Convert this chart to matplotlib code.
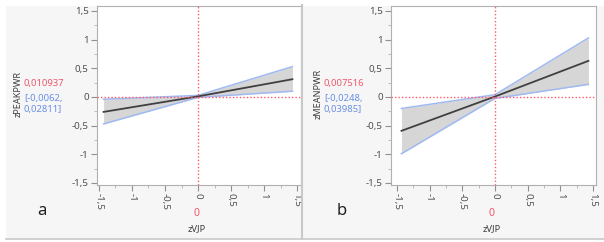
import numpy as np
import matplotlib.pyplot as plt
from matplotlib.patches import Rectangle
from matplotlib.ticker import MultipleLocator, FuncFormatter

plt.rcParams['font.family'] = ['Noto Sans', 'DejaVu Sans']

# regression line and confidence band
xs = [-1.43, 0.0, 1.43]

a_fit = [-0.26, 0.010937, 0.31]
a_low = [-0.47, -0.0062, 0.10]
a_high = [-0.04, 0.02811, 0.53]

b_fit = [-0.59, 0.007516, 0.63]
b_low = [-0.99, -0.0248, 0.22]
b_high = [-0.20, 0.03985, 1.03]

panels = [
    dict(letter='a', ylabel='zPEAKPWR', val='0,010937', ci='[-0,0062,\n0,02811]',
         fit=a_fit, low=a_low, high=a_high),
    dict(letter='b', ylabel='zMEANPWR', val='0,007516', ci='[-0,0248,\n0,03985]',
         fit=b_fit, low=b_low, high=b_high),
]

W, H = 604, 242
fig = plt.figure(figsize=(W/100, H/100), dpi=100, facecolor='white')

def fx(px):
    return px / W

def fy(py):
    return 1 - py / H

# panel background and separators
fig.patches.append(Rectangle((fx(6), fy(238)), fx(598), (232)/H, transform=fig.transFigure,
                             facecolor='#f6f6f6', edgecolor='none', zorder=-5))
fig.add_artist(plt.Line2D([fx(302), fx(302)], [fy(238), fy(5)], color='#c8c8c8', lw=1.5))
fig.add_artist(plt.Line2D([fx(6), 1], [fy(238.5), fy(238.5)], color='#c8c8c8', lw=1.2))

red = '#f0566a'
blue = '#6a8fe6'
txt = '#505050'
comma = FuncFormatter(lambda v, p: ('%g' % v).replace('.', ','))

# axes boxes in pixels: left, right, top, bottom, and offsets for texts
boxes = [(97, 301, 6, 185, 0), (391, 596, 6, 185, 300)]

for p, (l, r, t, b, off) in zip(panels, boxes):
    ax = fig.add_axes([fx(l), fy(b), (r - l)/W, (b - t)/H])
    ax.set_facecolor('white')
    ax.fill_between(xs, p['low'], p['high'], color='#d6d6d6', lw=0, zorder=1)
    ax.plot(xs, p['low'], color='#9fbaf2', lw=1.1, zorder=2)
    ax.plot(xs, p['high'], color='#9fbaf2', lw=1.1, zorder=2)
    ax.plot(xs, p['fit'], color='#404040', lw=1.3, zorder=3)
    ax.axhline(0, color='#ff5a6a', ls=(0, (1, 1.5)), lw=1.0, zorder=4)
    ax.axvline(0, color='#ff5a6a', ls=(0, (1, 1.5)), lw=1.0, zorder=4)

    ax.set_xlim(-1.53 if off == 0 else -1.59, 1.56 if off == 0 else 1.546)
    ax.set_ylim(-1.535, 1.587)
    ax.xaxis.set_major_locator(MultipleLocator(0.5))
    ax.yaxis.set_major_locator(MultipleLocator(0.5))
    ax.xaxis.set_minor_locator(MultipleLocator(0.25))
    ax.yaxis.set_minor_locator(MultipleLocator(0.25))
    ax.xaxis.set_major_formatter(comma)
    ax.yaxis.set_major_formatter(comma)
    ax.tick_params(which='major', length=4, color='#909090', labelsize=7, labelcolor=txt, pad=2)
    ax.tick_params(which='minor', length=2, color='#b0b0b0')
    for lab in ax.get_xticklabels():
        lab.set_rotation(270)
    for s in ax.spines.values():
        s.set_color('#b0b0b0')
        s.set_linewidth(0.8)

    # side texts
    fig.text(fx(off + 18), fy(94), p['ylabel'], rotation=90, ha='center', va='center',
             fontsize=6.6, color='#404040')
    fig.text(fx(off + 24), fy(83), p['val'], ha='left', va='center', fontsize=6.8, color=red)
    fig.text(fx(off + 24), fy(104), p['ci'], ha='left', va='center', fontsize=6.8, color=blue,
             linespacing=1.15)
    # below x axis
    cx = (l + r) / 2 - 2
    fig.text(fx(cx), fy(214), '0', ha='center', va='center', fontsize=7.5, color=red)
    fig.text(fx(cx), fy(229), 'zVJP', ha='center', va='center', fontsize=6.8, color='#404040')
    fig.text(fx(off + 42), fy(211), p['letter'], ha='center', va='center', fontsize=12,
             color='#202020')

fig.savefig('out.png', dpi=100, facecolor=fig.get_facecolor())
